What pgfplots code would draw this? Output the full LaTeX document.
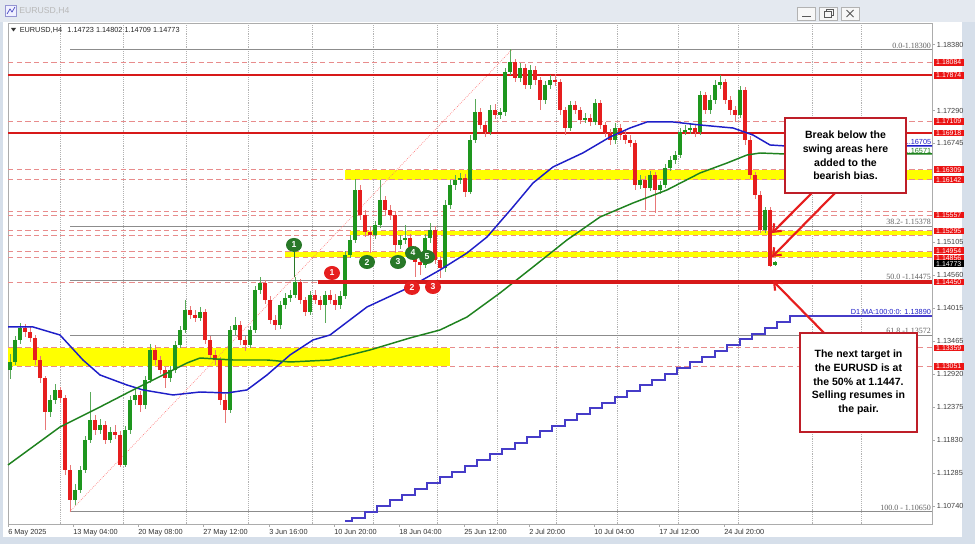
\documentclass[border=0pt]{standalone}
\usepackage{pgfplots}
\pgfplotsset{compat=1.18}
\usepackage{pgfplotstable}
\usetikzlibrary{arrows.meta,shapes.geometric}
\usepackage{fontspec}
\setmainfont{Liberation Sans}
\newfontfamily\fibfont{Liberation Serif}
\definecolor{upgreen}{RGB}{30,150,30}
\definecolor{dnred}{RGB}{230,30,30}
\definecolor{upwick}{RGB}{90,170,90}
\definecolor{dnwick}{RGB}{232,120,120}
\definecolor{lvlred}{RGB}{215,25,25}
\definecolor{dashpink}{RGB}{232,140,140}
\definecolor{fibgray}{RGB}{140,140,140}
\definecolor{mablue}{RGB}{30,30,200}
\definecolor{magreen}{RGB}{30,130,30}
\definecolor{d1blue}{RGB}{70,60,200}
\definecolor{band}{RGB}{255,255,0}
\definecolor{tagred}{RGB}{235,20,20}
\definecolor{boxred}{RGB}{190,30,40}
\definecolor{circgreen}{RGB}{40,120,40}
\definecolor{framec}{RGB}{214,223,234}
\definecolor{titlec}{RGB}{228,233,240}
\newcommand\lab{\fontsize{5.5pt}{6pt}\selectfont}
\newcommand\tagf{\fontsize{5.2pt}{5.5pt}\selectfont}
\newcommand\boxfont{\fontsize{7.9pt}{10.3pt}\selectfont\bfseries}
\tikzset{
  dashlvl/.style={dashpink, line width=0.7pt, dash pattern=on 4pt off 2.5pt},
  swingg/.style={ellipse, fill=circgreen, text=white, inner sep=0pt, minimum width=12pt, minimum height=10.5pt, font=\bfseries\fontsize{6.5pt}{7pt}\selectfont},
  swingr/.style={ellipse, fill=dnred, text=white, inner sep=0pt, minimum width=12pt, minimum height=10.5pt, font=\bfseries\fontsize{6.5pt}{7pt}\selectfont},
  tag/.style={anchor=west, fill=tagred, text=white, font=\tagf, inner sep=0pt, minimum width=22.5pt, minimum height=5pt},
  fiblab/.style={anchor=south east, inner sep=0.6pt, font=\fibfont\fontsize{6pt}{6.5pt}\selectfont, text=gray!75!black},
}
\pgfplotsset{
  candle/.style 2 args={draw=none, mark=none, forget plot,
    error bars/.cd, y dir=both, y explicit, error mark=none,
    error bar style={draw=#1, line width=#2}},
}

\pgfplotstableread{
x o h l c
10 1.12990 1.13250 1.12850 1.13125
15 1.13125 1.13560 1.13080 1.13490
20 1.13490 1.13771 1.13420 1.13688
50 1.12297 1.12580 1.12220 1.12496
55 1.12496 1.12760 1.12430 1.12662
75 1.10840 1.11100 1.10760 1.11006
80 1.11006 1.11400 1.10950 1.11337
85 1.11337 1.11900 1.11280 1.11834
90 1.11834 1.12629 1.11780 1.12165
100 1.11999 1.12180 1.11930 1.12082
110 1.11834 1.12050 1.11780 1.11966
125 1.11420 1.12060 1.11380 1.11999
130 1.11999 1.12560 1.11940 1.12496
135 1.12496 1.12700 1.12420 1.12579
145 1.12413 1.12900 1.12350 1.12827
150 1.12827 1.13420 1.12780 1.13324
170 1.12860 1.13060 1.12800 1.12993
175 1.12993 1.13480 1.12940 1.13407
180 1.13407 1.13720 1.13350 1.13655
185 1.13655 1.14152 1.13600 1.13986
200 1.13854 1.14040 1.13800 1.13953
230 1.12330 1.13720 1.12280 1.13655
235 1.13655 1.13870 1.13580 1.13738
250 1.13407 1.13720 1.13350 1.13655
255 1.13655 1.14380 1.13600 1.14318
260 1.14318 1.14533 1.14250 1.14434
280 1.13738 1.14130 1.13680 1.14069
285 1.14069 1.14260 1.14000 1.14185
290 1.14185 1.14320 1.14120 1.14235
295 1.14235 1.14533 1.14180 1.14450
310 1.13953 1.14300 1.13900 1.14235
325 1.14069 1.14300 1.13771 1.14235
340 1.14069 1.14300 1.14000 1.14218
345 1.14218 1.14960 1.14160 1.14897
350 1.14897 1.15230 1.14840 1.15146
355 1.15146 1.16160 1.15100 1.15974
375 1.15228 1.15460 1.15160 1.15394
380 1.15394 1.16139 1.15340 1.15808
400 1.15063 1.15230 1.14990 1.15146
405 1.15146 1.15400 1.15080 1.15179
425 1.14732 1.15250 1.14680 1.15179
430 1.15179 1.15427 1.15100 1.15312
445 1.14682 1.15800 1.14620 1.15725
450 1.15725 1.16140 1.15660 1.16056
455 1.16056 1.16220 1.15980 1.16139
460 1.16139 1.16260 1.16080 1.16172
470 1.15940 1.16880 1.15900 1.16802
475 1.16802 1.17480 1.16750 1.17265
490 1.16934 1.17380 1.16880 1.17298
500 1.17216 1.17340 1.17150 1.17265
505 1.17265 1.18000 1.17200 1.17928
510 1.17928 1.18300 1.17870 1.18093
520 1.17828 1.18080 1.17760 1.17994
530 1.17712 1.18050 1.17650 1.17961
545 1.17464 1.17780 1.17400 1.17712
550 1.17712 1.17880 1.17650 1.17795
570 1.17000 1.17450 1.16950 1.17381
585 1.17133 1.17250 1.17080 1.17166
595 1.17100 1.17480 1.17050 1.17414
615 1.16802 1.17080 1.16740 1.17000
640 1.16056 1.16220 1.15990 1.16139
650 1.16007 1.16290 1.15950 1.16222
660 1.15974 1.16130 1.15900 1.16056
665 1.16056 1.16400 1.16000 1.16338
670 1.16338 1.16540 1.16280 1.16470
675 1.16470 1.16620 1.16400 1.16553
680 1.16553 1.17000 1.16500 1.16934
685 1.16934 1.17050 1.16880 1.16967
690 1.16967 1.17070 1.16900 1.17000
700 1.16934 1.17620 1.16880 1.17547
710 1.17298 1.17540 1.17240 1.17464
715 1.17464 1.17800 1.17400 1.17712
720 1.17712 1.17878 1.17650 1.17762
740 1.17216 1.17700 1.17160 1.17630
765 1.15312 1.15700 1.15261 1.15642
775 1.14723 1.14802 1.14709 1.14773
}\upc

\pgfplotstableread{
x o h l c
25 1.13688 1.13760 1.13540 1.13622
30 1.13622 1.13700 1.13450 1.13523
35 1.13523 1.13580 1.13080 1.13158
40 1.13158 1.13220 1.12780 1.12860
45 1.12860 1.12900 1.12000 1.12297
60 1.12662 1.12720 1.12450 1.12529
65 1.12529 1.12580 1.11250 1.11337
70 1.11337 1.11420 1.10650 1.10840
95 1.12165 1.12250 1.11920 1.11999
105 1.12082 1.12150 1.11760 1.11834
115 1.11966 1.12080 1.11850 1.11916
120 1.11916 1.11980 1.11386 1.11420
140 1.12579 1.12640 1.12300 1.12413
155 1.13324 1.13400 1.13080 1.13158
160 1.13158 1.13220 1.12920 1.12993
165 1.12993 1.13050 1.12700 1.12860
190 1.13986 1.14050 1.13830 1.13904
195 1.13904 1.13980 1.13780 1.13854
205 1.13953 1.14000 1.13420 1.13490
210 1.13490 1.13560 1.13180 1.13241
215 1.13241 1.13320 1.13080 1.13158
220 1.13158 1.13200 1.12420 1.12496
225 1.12496 1.12600 1.12115 1.12330
240 1.13738 1.13800 1.13400 1.13490
245 1.13490 1.13560 1.13300 1.13407
265 1.14434 1.14480 1.14080 1.14152
270 1.14152 1.14220 1.13760 1.13821
275 1.13821 1.13900 1.13650 1.13738
300 1.14450 1.14500 1.14080 1.14152
305 1.14152 1.14200 1.13880 1.13953
315 1.14235 1.14320 1.14080 1.14152
320 1.14152 1.14220 1.13990 1.14069
330 1.14235 1.14320 1.14080 1.14152
335 1.14152 1.14250 1.13990 1.14069
360 1.15974 1.16050 1.15480 1.15560
365 1.15560 1.15640 1.15200 1.15278
370 1.15278 1.15380 1.14930 1.15228
385 1.15808 1.15880 1.15560 1.15642
390 1.15642 1.15720 1.15480 1.15560
395 1.15560 1.15620 1.14930 1.15063
410 1.15179 1.15250 1.14900 1.14980
415 1.14980 1.15050 1.14533 1.14781
420 1.14781 1.14880 1.14560 1.14732
435 1.15312 1.15380 1.14750 1.14814
440 1.14814 1.14880 1.14516 1.14682
465 1.16172 1.16240 1.15860 1.15940
480 1.17265 1.17330 1.16980 1.17050
485 1.17050 1.17120 1.16850 1.16934
495 1.17298 1.17400 1.17150 1.17216
515 1.18093 1.18150 1.17760 1.17828
525 1.17994 1.18060 1.17640 1.17712
535 1.17961 1.18020 1.17720 1.17795
540 1.17795 1.17850 1.17300 1.17464
555 1.17795 1.17900 1.17700 1.17762
560 1.17762 1.17820 1.17220 1.17298
565 1.17298 1.17350 1.16880 1.17000
575 1.17381 1.17450 1.17230 1.17298
580 1.17298 1.17350 1.17060 1.17133
590 1.17166 1.17230 1.17030 1.17100
600 1.17414 1.17460 1.16980 1.17050
605 1.17050 1.17100 1.16850 1.16918
610 1.16918 1.16980 1.16720 1.16802
620 1.17000 1.17060 1.16810 1.16884
625 1.16884 1.16950 1.16730 1.16802
630 1.16802 1.16880 1.16680 1.16752
635 1.16752 1.16800 1.15980 1.16056
645 1.16139 1.16200 1.15642 1.16007
655 1.16222 1.16280 1.15593 1.15974
695 1.17000 1.17060 1.16860 1.16934
705 1.17547 1.17600 1.17230 1.17298
725 1.17762 1.17820 1.17400 1.17464
730 1.17464 1.17530 1.17220 1.17298
735 1.17298 1.17360 1.17100 1.17216
745 1.17630 1.17680 1.16720 1.16802
750 1.16802 1.16870 1.16150 1.16222
755 1.16222 1.16280 1.15820 1.15891
760 1.15891 1.15950 1.15261 1.15312
770 1.15642 1.15700 1.14700 1.14723
}\dnc

\begin{document}
\begin{tikzpicture}[x=0.75pt,y=0.75pt]
\path[use as bounding box] (0,0) rectangle (975,544);
\fill[framec] (0,0) rectangle (975,544);
\fill[titlec] (0,522) rectangle (975,544);
\fill[white] (3,7) rectangle (962,522);
% title bar
\draw[gray!60!blue!60, fill=blue!6] (5,528) rectangle (16,539);
\draw[blue!50!gray, line width=0.5pt] (7,530) -- (10,535) -- (12,532) -- (15,537);
\node[anchor=west, inner sep=0pt, text=gray!55, font=\fontsize{6.5pt}{7pt}\selectfont] at (19,533) {EURUSD,H4};
\foreach \bx in {797,819,841}{\draw[gray!60, fill=gray!6] (\bx,524) rectangle ({\bx+18},537);}
\draw[gray!70!black, line width=0.8pt] (802,527.5) -- (811,527.5);
\draw[gray!70!black, line width=0.5pt] (824,526.5) rectangle (831,532.5);
\draw[gray!70!black, line width=0.5pt] (826,532.5) -- (826,534.5) -- (833,534.5) -- (833,528.5) -- (831,528.5);
\draw[gray!70!black, line width=0.7pt] (846.5,527) -- (853.5,534) (846.5,534) -- (853.5,527);

\begin{axis}[
  at={(6pt,15pt)}, anchor=south west,
  scale only axis, width=693pt, height=375.75pt,
  xmin=8, xmax=932, ymin=1.10442, ymax=1.18739,
  clip=false,
  axis line style={draw=gray!65, line width=0.6pt},
  tick style={draw=gray!65, line width=0.5pt},
  tick align=outside, major tick length=2pt,
  xtick pos=bottom, ytick pos=right,
  xtick={8,73,138,203,269,334,399,464,529,594,659,724},
  xticklabels={6 May 2025,13 May 04:00,20 May 08:00,27 May 12:00,3 Jun 16:00,10 Jun 20:00,18 Jun 04:00,25 Jun 12:00,2 Jul 20:00,10 Jul 04:00,17 Jul 12:00,24 Jul 20:00},
  x tick label style={anchor=north west, inner sep=0pt, yshift=-2pt, font=\lab, text=black!80},
  extra x ticks={60,123,186,248,312,373,437,497,556,617,678,738,812,861},
  extra x tick labels={},
  extra x tick style={grid=major, major grid style={draw=gray!60, densely dotted, line width=0.5pt}, major tick length=0pt},
  ytick={1.10740,1.11285,1.11830,1.12375,1.12920,1.13465,1.14015,1.14560,1.15105,1.16745,1.17290,1.18380},
  yticklabels={1.10740,1.11285,1.11830,1.12375,1.12920,1.13465,1.14015,1.14560,1.15105,1.16745,1.17290,1.18380},
  yticklabel pos=right,
  y tick label style={anchor=west, inner sep=0pt, xshift=1.5pt, font=\lab, text=black!75},
]
% yellow zones
\fill[band] (axis cs:345,1.16142) rectangle (axis cs:932,1.16309);
\fill[band] (axis cs:350,1.15220) rectangle (axis cs:932,1.15295);
\fill[band] (axis cs:285,1.14856) rectangle (axis cs:932,1.14954);
\fill[band] (axis cs:8,1.13051) rectangle (axis cs:450,1.13359);
% dashed levels
\pgfplotsinvokeforeach{1.18084,1.17109,1.16309,1.16142,1.15614,1.15557,1.15295,1.15220,1.14954,1.14856,1.13359,1.13051}{
  \draw[dashlvl] (axis cs:8,#1) -- (axis cs:932,#1);
}
\draw[dashlvl] (axis cs:8,1.14450) -- (axis cs:318,1.14450);
% fib levels
\pgfplotsinvokeforeach{1.18300,1.15378,1.14475,1.13572,1.10650}{
  \draw[fibgray, line width=0.6pt] (axis cs:70,#1) -- (axis cs:932,#1);
}
\draw[red!55, densely dotted, line width=0.5pt] (axis cs:70,1.10650) -- (axis cs:512,1.18300);
% solid red levels
\draw[lvlred, line width=1.1pt] (axis cs:8,1.17874) -- (axis cs:932,1.17874);
\draw[lvlred, line width=1.1pt] (axis cs:8,1.16918) -- (axis cs:932,1.16918);

% D1 MA 100
\addplot[d1blue, line width=1.4pt, const plot, forget plot] coordinates {
(345,1.10492) (352,1.10542) (365,1.10641) (377,1.10741) (390,1.10840) (402,1.10923)
(415,1.11022) (427,1.11122) (440,1.11221) (452,1.11304) (465,1.11403) (477,1.11502)
(490,1.11602) (502,1.11685) (515,1.11784) (527,1.11883) (540,1.11983) (552,1.12066)
(565,1.12165) (577,1.12264) (590,1.12364) (602,1.12447) (615,1.12546) (627,1.12645)
(640,1.12744) (652,1.12827) (665,1.12926) (677,1.13026) (690,1.13125) (702,1.13208)
(715,1.13307) (727,1.13406) (740,1.13506) (752,1.13589) (765,1.13688) (777,1.13788)
(790,1.13890) (932,1.13890)};

% candles: wicks
\addplot[candle={upwick}{0.75pt}]
  table[x=x, y expr={(\thisrow{h}+\thisrow{l})/2}, y error expr={(\thisrow{h}-\thisrow{l})/2}] {\upc};
\addplot[candle={dnwick}{0.75pt}]
  table[x=x, y expr={(\thisrow{h}+\thisrow{l})/2}, y error expr={(\thisrow{h}-\thisrow{l})/2}] {\dnc};
% candles: bodies
\addplot[candle={upgreen}{2.9pt}]
  table[x=x, y expr={(\thisrow{o}+\thisrow{c})/2}, y error expr={(\thisrow{c}-\thisrow{o})/2}] {\upc};
\addplot[candle={dnred}{2.9pt}]
  table[x=x, y expr={(\thisrow{o}+\thisrow{c})/2}, y error expr={(\thisrow{o}-\thisrow{c})/2}] {\dnc};

% moving averages
\addplot[mablue, line width=1.1pt, forget plot] coordinates {
(8,1.13705) (33,1.13705) (60,1.13572) (83,1.13158) (100,1.12910) (127,1.12744) (143,1.12662)
(173,1.12579) (200,1.12628) (227,1.12612) (247,1.12662) (267,1.12910) (290,1.13241)
(313,1.13490) (330,1.13572) (367,1.14036) (410,1.14367) (440,1.14649) (467,1.14930)
(487,1.15195) (513,1.15692) (533,1.16089) (553,1.16355) (583,1.16588) (610,1.16851)
(630,1.17000) (647,1.17100) (673,1.17100) (700,1.17050) (733,1.17000) (753,1.16884)
(770,1.16719) (783,1.16705) (932,1.16705)};
\addplot[magreen, line width=1.1pt, forget plot] coordinates {
(8,1.11420) (60,1.12049) (100,1.12380) (133,1.12662) (167,1.12943) (187,1.13109)
(200,1.13191) (233,1.13158) (267,1.13158) (290,1.13125) (330,1.13158) (370,1.13324)
(410,1.13523) (440,1.13655) (467,1.13870) (500,1.14268) (533,1.14698) (567,1.15146)
(600,1.15526) (633,1.15758) (667,1.15974) (700,1.16255) (727,1.16420) (747,1.16553)
(760,1.16586) (783,1.16571) (932,1.16571)};

% thick support line
\draw[lvlred, line width=2.3pt] (axis cs:318,1.14450) -- (axis cs:932,1.14450);

% level texts
\node[fiblab] at (axis cs:932,1.18300) {0.0-1.18300};
\node[fiblab] at (axis cs:932,1.15378) {38.2- 1.15378};
\node[fiblab] at (axis cs:932,1.14475) {50.0 -1.14475};
\node[fiblab] at (axis cs:932,1.13572) {61.8 -1.13572};
\node[fiblab] at (axis cs:932,1.10650) {100.0 - 1.10650};
\node[anchor=south east, inner sep=0.6pt, font=\lab, text=mablue] at (axis cs:932,1.13890) {D1 MA:100:0:0: 1.13890};
\node[anchor=south east, inner sep=0.4pt, font=\lab, text=mablue] at (axis cs:932,1.16705) {1.16705};
\node[anchor=south east, inner sep=0.4pt, font=\lab, text=magreen] at (axis cs:932,1.16571) {1.16571};

% swing labels
\draw[circgreen, line width=0.5pt] (axis cs:294,1.15063) -- (axis cs:294,1.14533);
\node[swingg] at (axis cs:294,1.15063) {1};
\node[swingg] at (axis cs:367,1.14781) {2};
\node[swingg] at (axis cs:398,1.14781) {3};
\node[swingg] at (axis cs:413,1.14930) {4};
\node[swingg] at (axis cs:427,1.14864) {5};
\node[swingr] at (axis cs:332,1.14599) {1};
\node[swingr] at (axis cs:412,1.14351) {2};
\node[swingr] at (axis cs:433,1.14367) {3};

% arrows
\draw[dnred, line width=1.6pt, -{Straight Barb[length=5pt,width=8pt,line width=1.6pt]}] (axis cs:815,1.15974) -- (axis cs:772,1.15261);
\draw[dnred, line width=1.6pt, -{Straight Barb[length=5pt,width=8pt,line width=1.6pt]}] (axis cs:838,1.15974) -- (axis cs:772,1.14864);
\draw[dnred, line width=1.6pt, -{Straight Barb[length=5pt,width=8pt,line width=1.6pt]}] (axis cs:828,1.13539) -- (axis cs:773,1.14467);

% text boxes
\draw[boxred, line width=1.3pt, fill=white] (axis cs:785,1.17166) rectangle (axis cs:906,1.15924);
\node[align=center, font=\boxfont, inner sep=0pt] at (axis cs:845.5,1.16545) {Break below the\\swing areas here\\added to the\\bearish bias.};
\draw[boxred, line width=1.3pt, fill=white] (axis cs:800,1.13606) rectangle (axis cs:917,1.11966);
\node[align=center, font=\boxfont, inner sep=0pt] at (axis cs:858.5,1.12786) {The next target in\\the EURUSD is at\\the 50\% at 1.1447.\\Selling resumes in\\the pair.};

% price tags
\pgfplotsinvokeforeach{1.18084,1.17874,1.17109,1.16918,1.16309,1.16142,1.15557,1.15295,1.13359,1.13051,1.14450}{
  \node[tag] at (axis cs:933.5,#1) {#1};
}
\node[tag, yshift=0.6pt] at (axis cs:933.5,1.14954) {1.14954};
\node[tag, yshift=-0.6pt] at (axis cs:933.5,1.14856) {1.14856};
\node[tag, fill=black, yshift=-1pt] at (axis cs:933.5,1.14773) {1.14773};
\end{axis}

% chart header
\fill[black!80] (11,516) -- (16,516) -- (13.5,512.5) -- cycle;
\node[anchor=west, inner sep=0pt, font=\lab, text=black!85] at (19.5,514) {EURUSD,H4\hspace{4pt}1.14723 1.14802 1.14709 1.14773};
\end{tikzpicture}
\end{document}
